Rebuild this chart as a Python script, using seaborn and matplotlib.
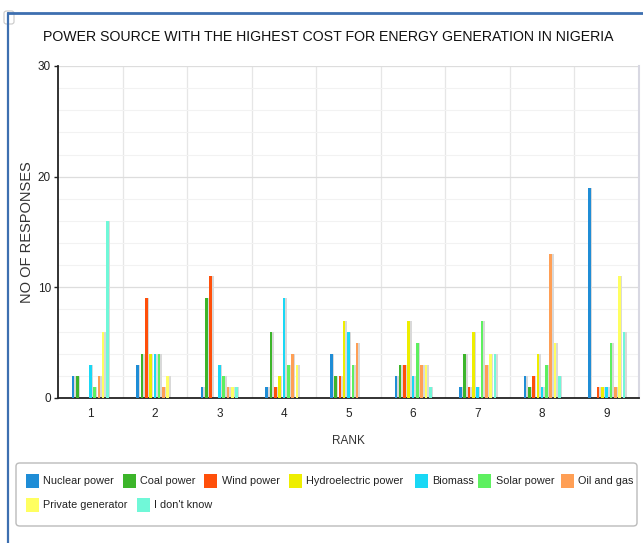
import matplotlib
matplotlib.use("Agg")
import matplotlib.pyplot as plt
from matplotlib.patches import Rectangle, FancyBboxPatch
from matplotlib.lines import Line2D
import numpy as np
import pandas as pd
import seaborn as sns

ranks = ["1", "2", "3", "4", "5", "6", "7", "8", "9"]
sources = ["Nuclear power", "Coal power", "Wind power", "Hydroelectric power",
           "Biomass", "Solar power", "Oil and gas", "Private generator", "I don't know"]
colors = ["#1f8dd6", "#3cb52a", "#ff4f0a", "#eeee00", "#19d8f5",
          "#5ef060", "#ff9f55", "#ffff60", "#70f8d8"]

nuclear = [2, 3, 1, 1, 4, 2, 1, 2, 19]
coal = [2, 4, 9, 6, 2, 3, 4, 1, 0]
wind = [0, 9, 11, 1, 2, 3, 1, 2, 1]
hydro = [0, 4, 0, 2, 7, 7, 6, 4, 1]
biomass = [3, 4, 3, 9, 6, 2, 1, 1, 1]
solar = [1, 4, 2, 3, 3, 5, 7, 3, 5]
oil_gas = [2, 1, 1, 4, 5, 3, 3, 13, 1]
private_gen = [6, 2, 1, 3, 0, 3, 4, 5, 11]
dont_know = [16, 0, 1, 0, 0, 1, 4, 2, 6]

series = [nuclear, coal, wind, hydro, biomass, solar, oil_gas, private_gen, dont_know]

df = pd.DataFrame(
    [(r, s, v[i]) for s, v in zip(sources, series) for i, r in enumerate(ranks)],
    columns=["rank", "source", "responses"],
)

sns.set_theme(style="white")
plt.rcParams["font.family"] = ["Liberation Sans", "DejaVu Sans"]

W, H = 643, 543
fig = plt.figure(figsize=(W / 100, H / 100), dpi=100)
ax = fig.add_axes([58 / W, 1 - 398 / H, 581 / W, 332 / H])

sns.barplot(data=df, x="rank", y="responses", hue="source", order=ranks,
            hue_order=sources, palette=colors, width=0.6, gap=0.4,
            saturation=1, errorbar=None, legend=False, ax=ax, zorder=3,
            linewidth=0)

# light drop shadow to the right of each bar
for p in list(ax.patches):
    h = p.get_height()
    if h <= 0:
        continue
    w = p.get_width()
    ax.add_patch(Rectangle((p.get_x() + w, 0), w * 0.6, h,
                           facecolor="#d9d9d9", edgecolor="none", zorder=2))

ax.set_ylim(0, 30)
ax.set_xlim(-0.5, 8.5)
ax.set_yticks([0, 10, 20, 30])
ax.set_yticks(np.arange(0, 31, 2), minor=True)
ax.set_xticks(np.arange(0.5, 8.6, 1), minor=True)
ax.grid(False)
ax.grid(axis="y", which="major", color="#dddddd", linewidth=0.9, zorder=0)
ax.grid(axis="y", which="minor", color="#f2f2f2", linewidth=0.8, zorder=0)
ax.grid(axis="x", which="minor", color="#e6e6e6", linewidth=0.9, zorder=0)
ax.set_axisbelow(True)

ax.tick_params(axis="x", which="major", length=0, labelsize=8.5, pad=7, colors="#222222")
ax.tick_params(axis="x", which="minor", length=5, width=1.2, color="#222222", direction="out")
ax.tick_params(axis="y", which="major", length=3, width=1, color="#222222",
               labelsize=8.5, pad=2, colors="#222222", left=True)
ax.tick_params(axis="y", which="minor", length=0)

for side in ["left", "bottom"]:
    ax.spines[side].set_color("#222222")
    ax.spines[side].set_linewidth(1.3)
ax.spines["top"].set_visible(False)
ax.spines["right"].set_color("#d8d8e2")
ax.spines["right"].set_linewidth(1.5)

ax.set_xlabel("RANK", fontsize=8.5, color="#333333", labelpad=11)
ax.set_ylabel("NO OF RESPONSES", fontsize=10.5, color="#333333")
ax.yaxis.set_label_coords((34 - 58) / 581, (398 - 232) / 332)

fig.text(328 / W, 1 - 37 / H,
         "POWER SOURCE WITH THE HIGHEST COST FOR ENERGY GENERATION IN NIGERIA",
         ha="center", va="center", fontsize=10.2, color="#111111")

# card frame with blue edge
fig.add_artist(Line2D([8 / W, 1], [1 - 13 / H, 1 - 13 / H], color="#3d6fb0",
                      linewidth=2, transform=fig.transFigure))
fig.add_artist(Line2D([8 / W, 8 / W], [0, 1 - 13 / H], color="#3d6fb0",
                      linewidth=1.6, transform=fig.transFigure))
fig.add_artist(FancyBboxPatch((4 / W, 1 - 24 / H), 10 / W, 13 / H,
                              boxstyle="round,pad=0,rounding_size=0.004",
                              transform=fig.transFigure, facecolor="white",
                              edgecolor="#c8c8c8", linewidth=0.8))

# legend box with a flowing two-row layout
fig.add_artist(FancyBboxPatch((16 / W, 1 - 526 / H), 621 / W, 63 / H,
                              boxstyle="round,pad=0,rounding_size=0.006",
                              transform=fig.transFigure, facecolor="white",
                              edgecolor="#bbbbbb", linewidth=1))
legend_x = [25.5, 123, 204, 289, 415, 478, 561, 25.5, 136.5]
legend_y = [481] * 7 + [505] * 2
for lx, ly, c, name in zip(legend_x, legend_y, colors, sources):
    fig.add_artist(Rectangle((lx / W, 1 - (ly + 7) / H), 13 / W, 14 / H,
                             facecolor=c, edgecolor="none",
                             transform=fig.transFigure))
    fig.text((lx + 17.5) / W, 1 - ly / H, name, ha="left", va="center",
             fontsize=7.8, color="#222222")

fig.savefig("out.png", dpi=100, facecolor="white")
